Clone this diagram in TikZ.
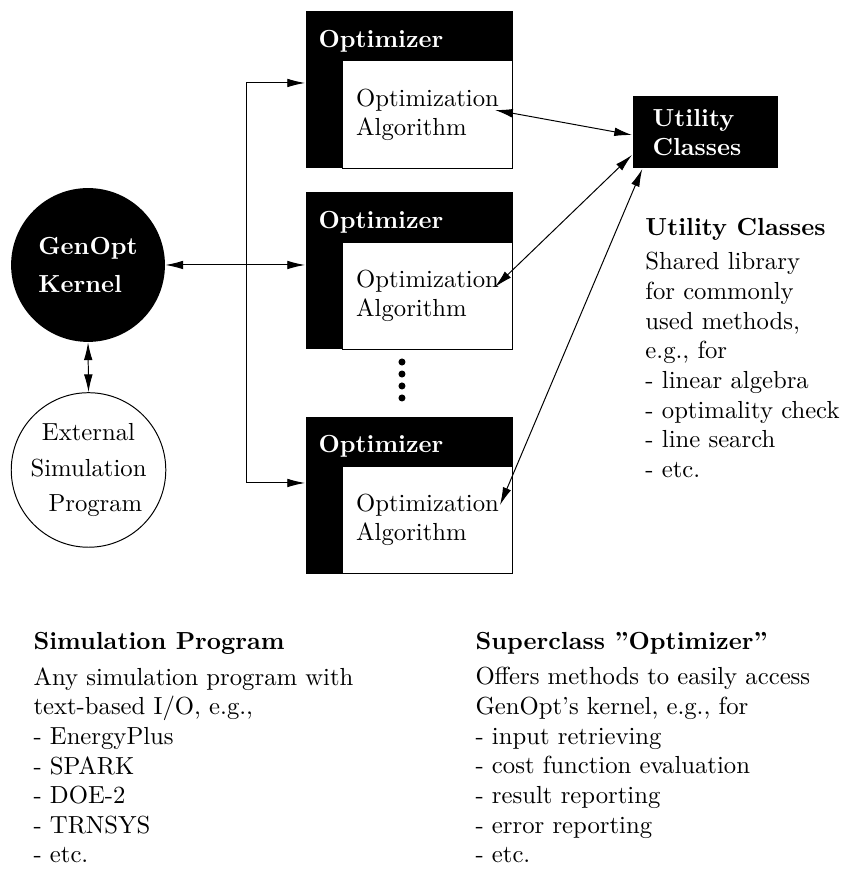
\documentclass[tikz,border=0pt]{standalone}
\usetikzlibrary{arrows.meta}
\begin{document}
\begin{tikzpicture}[>={Latex[length=7.2pt,width=3.5pt]},
  optbox/.style={rectangle,fill=black,minimum width=2.947cm,minimum height=2.235cm,inner sep=0},
  algbox/.style={rectangle,draw,thin,fill=white,minimum width=2.42cm,minimum height=1.53cm,align=left,inner sep=0},
  infotext/.style={align=left,anchor=north west,inner sep=0}]
%\draw[step=0.5cm,gray,very thin] (0,0) grid (12,12.37);
\useasboundingbox (0,0) rectangle (12,12.37);
% kernel and simulation program
\node[circle,fill=black,text=white,font=\bfseries,align=left,minimum size=2.19cm,inner sep=0] (kernel) at (1.253,8.598) {GenOpt\\[3pt]Kernel};
\node[circle,draw,thin,align=center,minimum size=2.2cm,inner sep=0] (sim) at (1.26,5.68) {External\\[2.5pt]Simulation\\[2.5pt]\hspace*{5.6pt}Program};
\draw[thin,<->] (kernel.south) -- (sim.north);
% optimizers
\foreach \i/\y in {1/12.214,2/9.637,3/6.448}{
  \node[optbox,anchor=north west] (opt\i) at (4.342,\y) {};
  \node[algbox,anchor=south east] (alg\i) at (opt\i.south east) {Optimization\\Algorithm};
  \node[anchor=west,text=white,font=\bfseries,inner sep=0,xshift=0.185cm,yshift=-0.427cm] (head\i) at (opt\i.north west) {Optimizer};
}
\foreach \y in {7.217,7.046,6.876,6.705}
  \fill[black] (5.722,\y) circle (0.05);
\coordinate (split) at (3.502,8.598);
\coordinate (in1) at (4.342,11.189);
\coordinate (in3) at (4.342,5.495);
\draw[thin,<->] (kernel.east) -- (opt2.west |- kernel.east);
\draw[thin,->] (split) |- (in1);
\draw[thin,->] (split) |- (in3);
% utility classes
\node[fill=black,text=white,font=\bfseries,align=left,text width=42.9pt,inner xsep=8.1pt,minimum height=1.025cm,anchor=north west] (util) at (8.997,11.004) {Utility\\Classes};
\coordinate (a1) at (7.046,10.804);
\coordinate (a2) at (7.046,8.285);
\coordinate (a3) at (7.118,5.181);
\draw[thin,<->] (a1) -- (util.182);
\draw[thin,<->] (a2) -- (util.197);
\draw[thin,<->] (a3) -- (util.210);
% explanations
\node[infotext,font=\bfseries] (utilhead) at (9.181,9.267) {Utility Classes};
\node[infotext] (utiltext) at (9.181,8.783) {Shared library\\for commonly\\used methods,\\e.g., for\\- linear algebra\\- optimality check\\- line search\\- etc.};
\node[infotext,font=\bfseries] (simhead) at (0.47,3.374) {Simulation Program};
\node[infotext] (simtext) at (0.47,2.875) {Any simulation program with\\text-based I/O, e.g.,\\- EnergyPlus\\- SPARK\\- DOE-2\\- TRNSYS\\- etc.};
\node[infotext,font=\bfseries] (suphead) at (6.762,3.374) {Superclass ''Optimizer''};
\node[infotext] (suptext) at (6.762,2.875) {Offers methods to easily access\\GenOpt's kernel, e.g., for\\- input retrieving\\- cost function evaluation\\- result reporting\\- error reporting\\- etc.};
\end{tikzpicture}
\end{document}
